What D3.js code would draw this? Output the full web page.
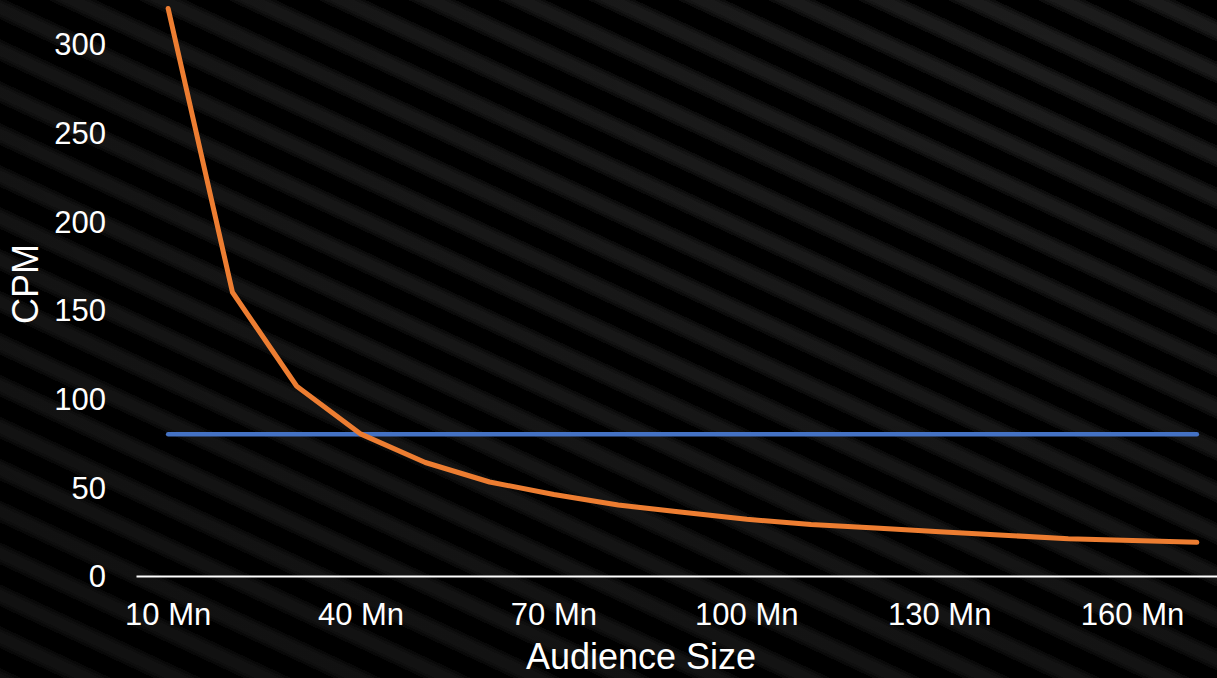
<!DOCTYPE html>
<html>
<head>
<meta charset="utf-8">
<script src="https://cdn.jsdelivr.net/npm/d3@7"></script>
<style>
  html, body { margin: 0; padding: 0; background: #000; overflow: hidden; }
  svg { display: block; }
  text { font-family: "Liberation Sans", Arial, Helvetica, sans-serif; fill: #fff; }
</style>
</head>
<body>
<svg id="chart" width="1217" height="678"></svg>
<script>
// Audience size categories (millions)
const categories = ["10 Mn","20 Mn","30 Mn","40 Mn","50 Mn","60 Mn","70 Mn","80 Mn","90 Mn",
                    "100 Mn","110 Mn","120 Mn","130 Mn","140 Mn","150 Mn","160 Mn","170 Mn"];
// CPM by audience size
const cpmValues = [320, 160, 107, 80, 64, 53, 46, 40, 36, 32, 29, 27, 25, 23, 21, 20, 19];
// Target CPM level
const targetValues = [80, 80, 80, 80, 80, 80, 80, 80, 80, 80, 80, 80, 80, 80, 80, 80, 80];
// Axis ticks
const yTicks = [0, 50, 100, 150, 200, 250, 300];
const xTickLabels = ["10 Mn","40 Mn","70 Mn","100 Mn","130 Mn","160 Mn"];

const W = 1217, H = 678;
const svg = d3.select("#chart");
const defs = svg.append("defs");

// Diagonal striped backdrop
const period = 38;
const pat = defs.append("pattern")
  .attr("id", "stripes")
  .attr("patternUnits", "userSpaceOnUse")
  .attr("width", period).attr("height", period)
  .attr("patternTransform", "rotate(25)");
pat.append("rect").attr("width", period).attr("height", period).attr("fill", "#040404");
pat.append("rect").attr("y", 0).attr("width", period).attr("height", 15).attr("fill", "#1d1d1d");

const blur = defs.append("filter").attr("id", "soft")
  .attr("x", "-5%").attr("y", "-5%").attr("width", "110%").attr("height", "110%");
blur.append("feGaussianBlur").attr("stdDeviation", 2.8);

const shade = defs.append("radialGradient").attr("id", "shade")
  .attr("cx", "0.85").attr("cy", "0.1").attr("r", "1.1");
shade.append("stop").attr("offset", "0").attr("stop-color", "#000").attr("stop-opacity", 0);
shade.append("stop").attr("offset", "1").attr("stop-color", "#000").attr("stop-opacity", 0.4);

svg.append("rect").attr("width", W).attr("height", H).attr("fill", "#040404");
svg.append("rect").attr("x", -20).attr("y", -20).attr("width", W + 40).attr("height", H + 40)
  .attr("fill", "url(#stripes)").attr("filter", "url(#soft)");
svg.append("rect").attr("width", W).attr("height", H).attr("fill", "url(#shade)");

// Scales
const x = d3.scaleBand().domain(categories).range([136, 1229]).padding(0);
const y = d3.scaleLinear().domain([0, 300]).range([576, 44]);
const cx = d => x(d) + x.bandwidth() / 2;

// Y axis labels (no axis line)
const yAxis = svg.append("g").attr("transform", "translate(106,0)")
  .call(d3.axisLeft(y).tickValues(yTicks).tickSize(0).tickPadding(0));
yAxis.select(".domain").remove();
yAxis.selectAll("text").style("font-size", "31px").attr("fill", "#fff")
  .attr("font-family", "Liberation Sans, Arial, sans-serif").attr("dy", "0.35em");

// X axis
const xAxis = svg.append("g").attr("transform", "translate(0,576)")
  .call(d3.axisBottom(x).tickValues(xTickLabels).tickSize(0).tickSizeOuter(0).tickPadding(27));
xAxis.select(".domain").attr("stroke", "#fff").attr("stroke-width", 2.2);
xAxis.selectAll("text").style("font-size", "31px").attr("fill", "#fff")
  .attr("font-family", "Liberation Sans, Arial, sans-serif");

// Axis titles
svg.append("text").attr("x", 641).attr("y", 669).attr("text-anchor", "middle")
  .style("font-size", "36px").text("Audience Size");
svg.append("text").attr("transform", "translate(38,284) rotate(-90)").attr("text-anchor", "middle")
  .style("font-size", "36px").text("CPM");

// Series lines
const line = d3.line().x((d, i) => cx(categories[i])).y(d => y(d));
svg.append("path").datum(targetValues).attr("d", line)
  .attr("fill", "none").attr("stroke", "#4472C4").attr("stroke-width", 4.5)
  .attr("stroke-linecap", "round").attr("stroke-linejoin", "round");
svg.append("path").datum(cpmValues).attr("d", line)
  .attr("fill", "none").attr("stroke", "#ED7D31").attr("stroke-width", 5)
  .attr("stroke-linecap", "round").attr("stroke-linejoin", "round");
</script>
</body>
</html>
